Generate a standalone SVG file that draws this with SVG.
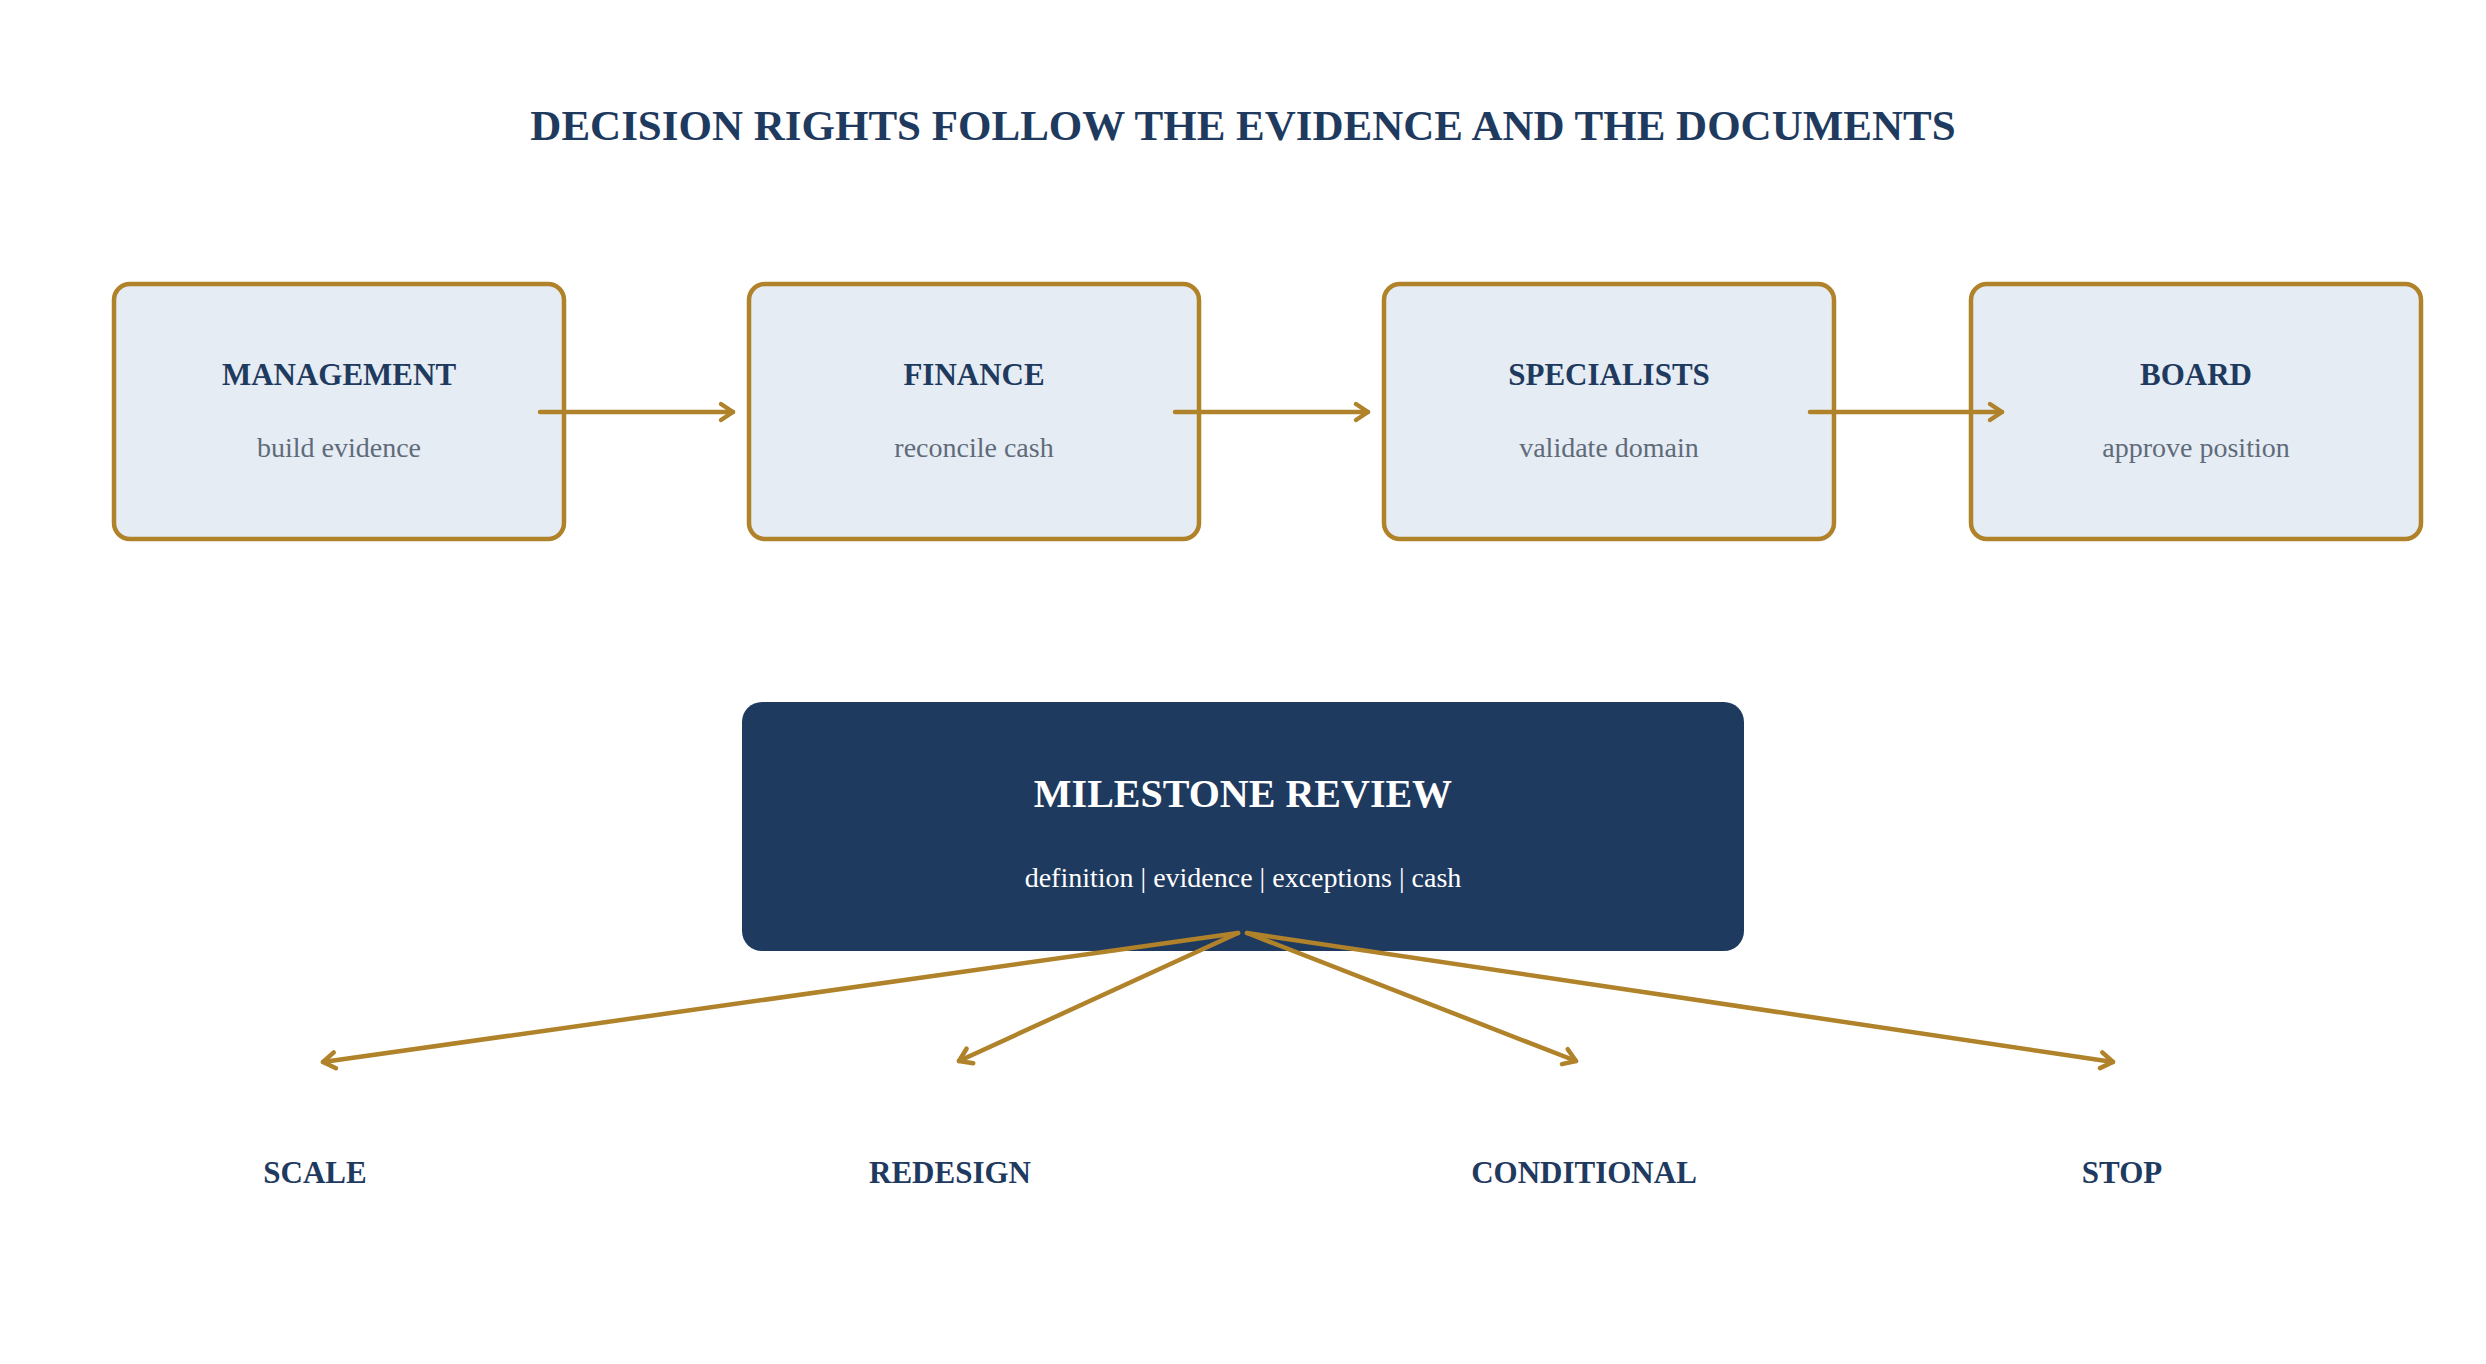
<svg xmlns="http://www.w3.org/2000/svg" width="2486" height="1364" viewBox="0 0 2486 1364">
  <style>
    .bg { fill: #ffffff; }
    .node rect { fill: #e5ecf3; stroke: #b0822a; stroke-width: 4.5; }
    .ttl { font-family: "Liberation Serif", "Times New Roman", serif; font-weight: bold; fill: #1f3a5f; text-anchor: middle; }
    .sub { font-family: "Liberation Serif", "Times New Roman", serif; fill: #5f6b7a; text-anchor: middle; font-size: 28px; }
    .main rect { fill: #1f3a5f; }
    .wt { font-family: "Liberation Serif", "Times New Roman", serif; fill: #ffffff; text-anchor: middle; }
    .conn line { stroke: #b0822a; stroke-width: 4.5; stroke-linecap: round; fill: none; marker-end: url(#arr); }
  </style>
  <defs>
    <marker id="arr" markerUnits="userSpaceOnUse" markerWidth="30" markerHeight="30" viewBox="-20 -15 30 30" refX="0" refY="0" orient="auto" overflow="visible">
      <path d="M-12,-8 L0,0 L-12,8" fill="none" stroke="#b0822a" stroke-width="4.5" stroke-linecap="round" stroke-linejoin="round"/>
    </marker>
  </defs>
  <rect class="bg" x="0" y="0" width="2486" height="1364"/>

  <text id="title" class="ttl" x="1243" y="140" font-size="43">DECISION RIGHTS FOLLOW THE EVIDENCE AND THE DOCUMENTS</text>

  <g id="management" class="node">
    <rect x="114" y="284" width="450" height="255" rx="16"/>
    <text class="ttl" x="339" y="385" font-size="31">MANAGEMENT</text>
    <text class="sub" x="339" y="457">build evidence</text>
  </g>
  <g id="finance" class="node">
    <rect x="749" y="284" width="450" height="255" rx="16"/>
    <text class="ttl" x="974" y="385" font-size="31">FINANCE</text>
    <text class="sub" x="974" y="457">reconcile cash</text>
  </g>
  <g id="specialists" class="node">
    <rect x="1384" y="284" width="450" height="255" rx="16"/>
    <text class="ttl" x="1609" y="385" font-size="31">SPECIALISTS</text>
    <text class="sub" x="1609" y="457">validate domain</text>
  </g>
  <g id="board" class="node">
    <rect x="1971" y="284" width="450" height="255" rx="16"/>
    <text class="ttl" x="2196" y="385" font-size="31">BOARD</text>
    <text class="sub" x="2196" y="457">approve position</text>
  </g>

  <g id="milestone-review" class="main">
    <rect x="742" y="702" width="1002" height="249" rx="20"/>
    <text class="wt" x="1243" y="807" font-size="40" font-weight="bold">MILESTONE REVIEW</text>
    <text class="wt" x="1243" y="887" font-size="28">definition | evidence | exceptions | cash</text>
  </g>

  <g id="scale"><text class="ttl" x="315" y="1183" font-size="31">SCALE</text></g>
  <g id="redesign"><text class="ttl" x="950" y="1183" font-size="31">REDESIGN</text></g>
  <g id="conditional"><text class="ttl" x="1584" y="1183" font-size="31">CONDITIONAL</text></g>
  <g id="stop"><text class="ttl" x="2122" y="1183" font-size="31">STOP</text></g>

  <g id="connectors" class="conn">
    <line x1="540" y1="412" x2="733" y2="412"/>
    <line x1="1175" y1="412" x2="1368" y2="412"/>
    <line x1="1810" y1="412" x2="2002" y2="412"/>
    <line x1="1238" y1="933" x2="323" y2="1062"/>
    <line x1="1238" y1="933" x2="959" y2="1061"/>
    <line x1="1247" y1="933" x2="1576" y2="1061"/>
    <line x1="1247" y1="933" x2="2113" y2="1062"/>
  </g>
</svg>
